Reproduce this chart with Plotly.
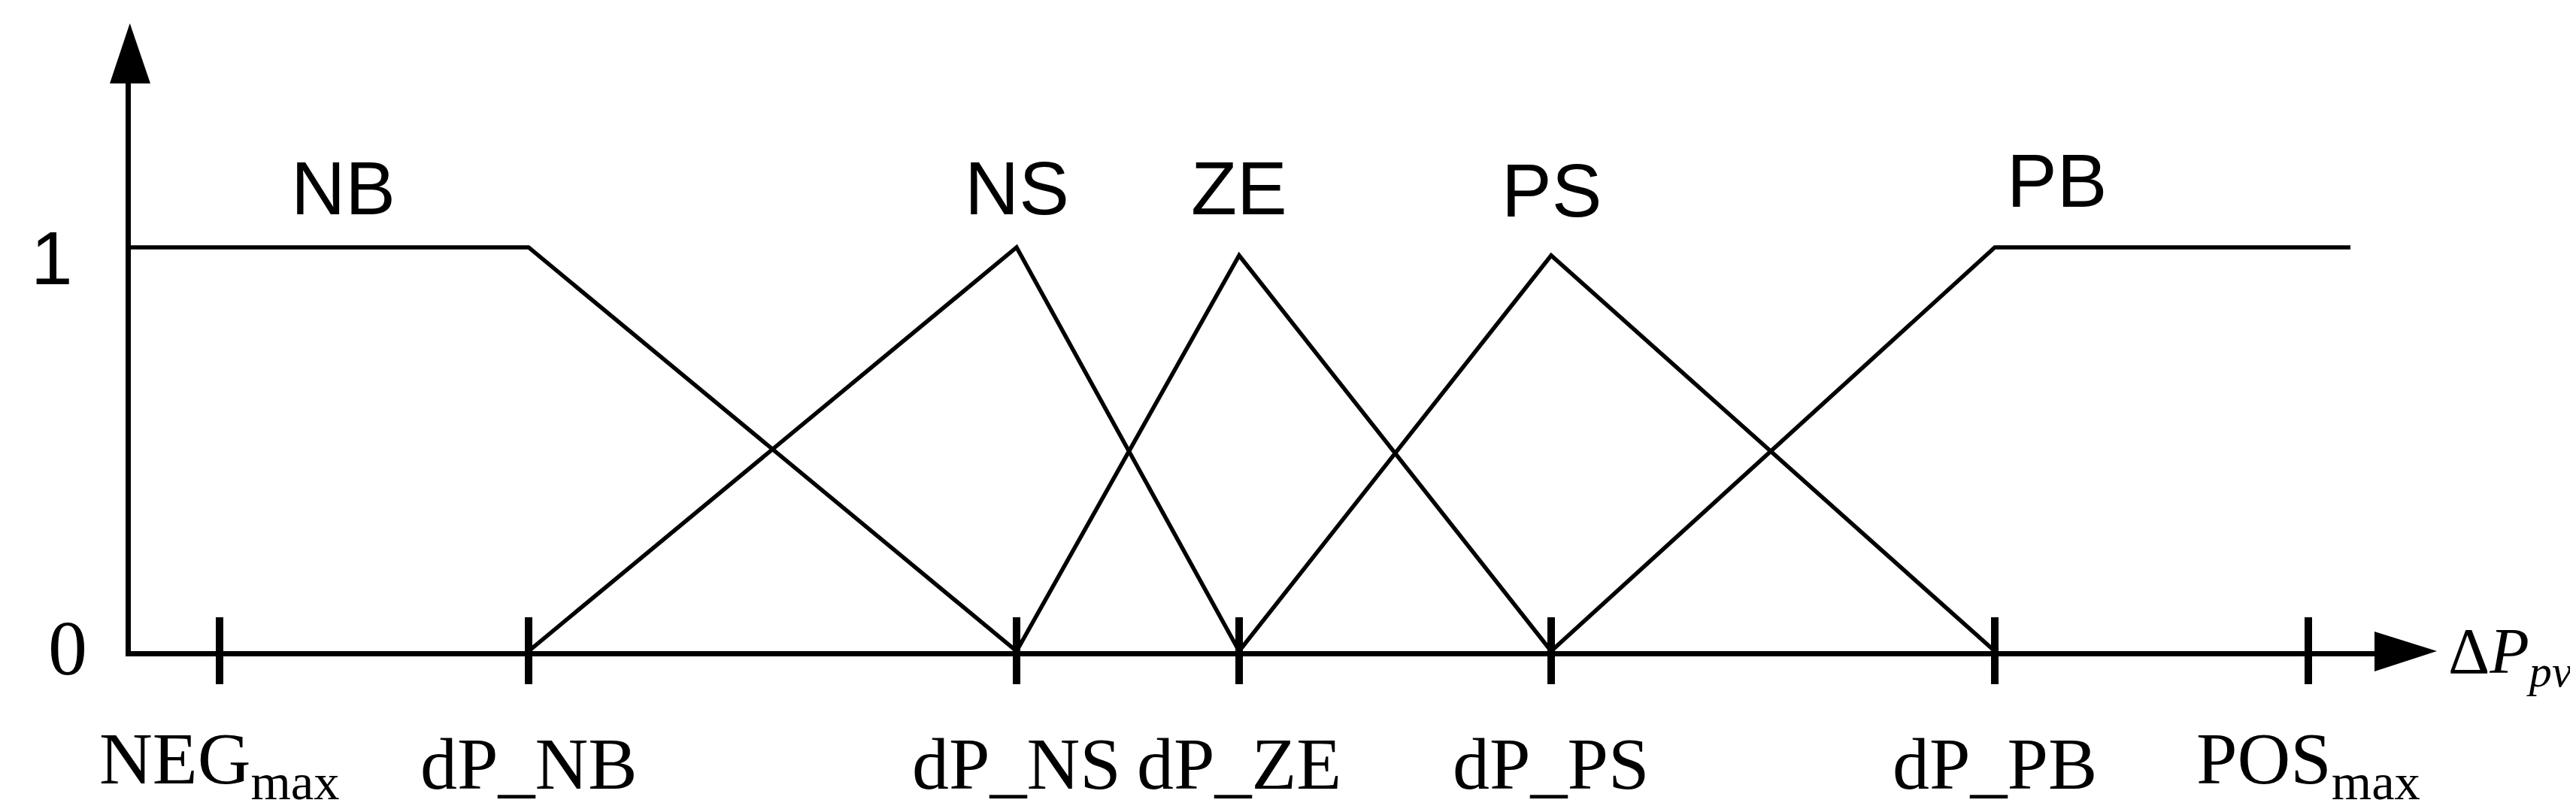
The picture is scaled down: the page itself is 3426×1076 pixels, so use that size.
import plotly.graph_objects as go

# ---------------- data ----------------
set_names = ["NB", "NS", "ZE", "PS", "PB"]
nb_x = [-1.474, -0.945, -0.296]
nb_y = [1, 1, 0]
ns_x = [-0.945, -0.296, 0.0]
ns_y = [0, 1, 0]
ze_x = [-0.296, 0.0, 0.415]
ze_y = [0, 0.98, 0]
ps_x = [0.0, 0.415, 1.005]
ps_y = [0, 0.98, 0]
pb_x = [0.415, 1.005, 1.478]
pb_y = [0, 1, 1]

tick_pos = [-1.356, -0.945, -0.296, 0.0, 0.415, 1.005, 1.422]
tick_text = ["NEG<sub>max</sub>", "dP_NB", "dP_NS", "dP_ZE", "dP_PS", "dP_PB", "POS<sub>max</sub>"]
set_label_x = [-1.192, -0.296, 0.0, 0.415, 1.087]
set_label_y = [1.147, 1.148, 1.148, 1.142, 1.166]

# ---------------- layout helpers ----------------
W, H = 3426, 1076


def px(x):
    return x / W


def py(y):
    return 1 - y / H


X0, X1 = 166, 3153      # plot area in pixels
Y0, Y1 = 858, 103
XMIN = -1.474
XSCALE = 1000.0         # px per x unit
YSCALE = 537.0          # px per y unit

fig = go.Figure()

for xs, ys in [(nb_x, nb_y), (ns_x, ns_y), (ze_x, ze_y), (ps_x, ps_y), (pb_x, pb_y)]:
    fig.add_trace(go.Scatter(x=xs, y=ys, mode="lines",
                             line=dict(color="black", width=5.5),
                             showlegend=False, hoverinfo="skip"))

# invisible trace on the overlay axis so its ticks are drawn
fig.add_trace(go.Scatter(x=[tick_pos[0]], y=[0], xaxis="x2", mode="markers",
                         marker=dict(opacity=0), showlegend=False, hoverinfo="skip"))

xr = [XMIN, XMIN + (X1 - X0) / XSCALE]
yr = [0, (Y0 - Y1) / YSCALE]

fig.update_layout(
    width=W, height=H,
    margin=dict(l=0, r=0, t=0, b=0),
    paper_bgcolor="white", plot_bgcolor="white",
    xaxis=dict(domain=[px(X0), px(X1)], range=xr, showline=True, linewidth=7,
               linecolor="black", ticks="outside", ticklen=37, tickwidth=10,
               tickcolor="black", tickvals=tick_pos, showticklabels=False,
               showgrid=False, zeroline=False, anchor="y", fixedrange=True),
    xaxis2=dict(domain=[px(X0), px(X1)], range=xr, overlaying="x", matches="x",
                anchor="y", side="bottom", showline=False, ticks="inside",
                ticklen=45, tickwidth=10, tickcolor="black", tickvals=tick_pos,
                showticklabels=False, showgrid=False, zeroline=False),
    yaxis=dict(domain=[py(Y0), py(Y1)], range=yr, showline=True, linewidth=7,
               linecolor="black", ticks="", showticklabels=False,
               showgrid=False, zeroline=False, fixedrange=True),
)

# arrowheads
fig.add_shape(type="path", xref="paper", yref="paper",
              path=f"M {px(164.7)} {py(23)} L {px(138)} {py(103)} L {px(192)} {py(103)} Z",
              fillcolor="black", line=dict(width=0))
fig.add_shape(type="path", xref="paper", yref="paper",
              path=f"M {px(3233)} {py(858)} L {px(3150)} {py(832)} L {px(3150)} {py(885)} Z",
              fillcolor="black", line=dict(width=0))

sans = "Liberation Sans, Arial, sans-serif"
serif = "Liberation Serif, Times New Roman, serif"

# fuzzy set labels
for name, lx, ly in zip(set_names, set_label_x, set_label_y):
    fig.add_annotation(x=lx, y=ly, xref="x", yref="y", text=name, showarrow=False,
                       font=dict(family=sans, size=100, color="black"),
                       xanchor="center", yanchor="middle")

# x tick labels
for t, v in zip(tick_text, tick_pos):
    fig.add_annotation(x=v, y=py(1008), xref="x", yref="paper", text=t, showarrow=False,
                       font=dict(family=serif, size=98, color="black"),
                       xanchor="center", yanchor="middle")

# y labels
fig.add_annotation(x=px(61), y=py(335), xref="paper", yref="paper", text="1",
                   showarrow=False, font=dict(family=sans, size=100, color="black"),
                   xanchor="center", yanchor="middle")
fig.add_annotation(x=px(82), y=py(854), xref="paper", yref="paper", text="0",
                   showarrow=False, font=dict(family=serif, size=104, color="black"),
                   xanchor="center", yanchor="middle")

# axis title
fig.add_annotation(x=px(3246), y=py(864), xref="paper", yref="paper",
                   text="Δ<i>P</i><sub><i>pv</i></sub>", showarrow=False,
                   font=dict(family=serif, size=86, color="black"),
                   xanchor="left", yanchor="middle")

fig.write_html("out.html")
